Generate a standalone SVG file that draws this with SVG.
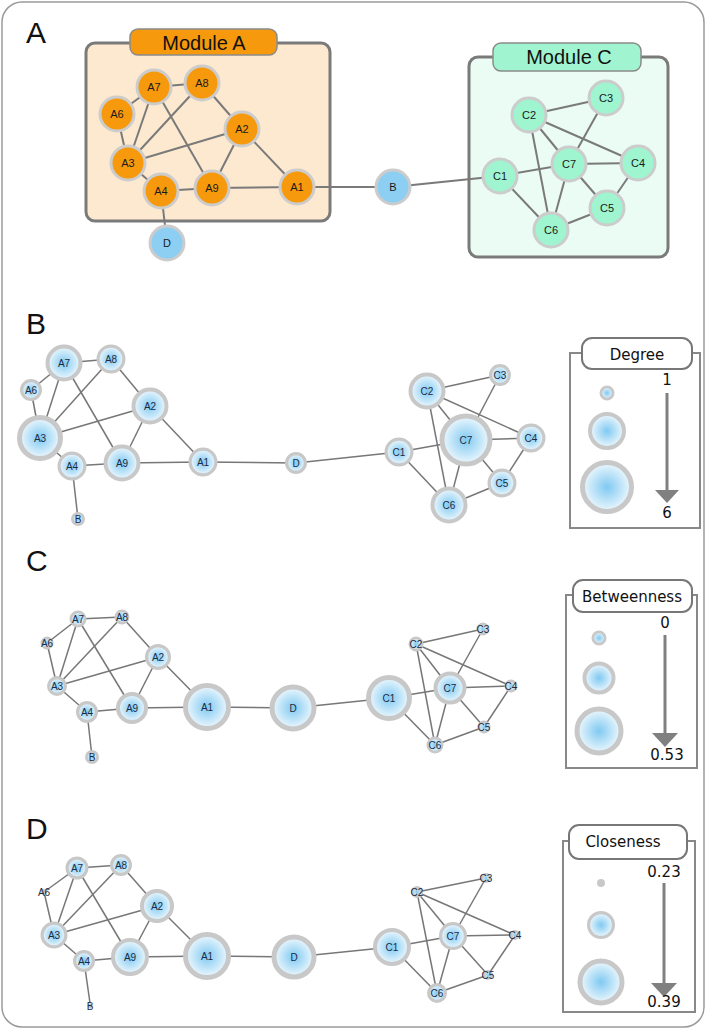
<svg xmlns="http://www.w3.org/2000/svg" width="708" height="1030" viewBox="0 0 708 1030">
<defs>
<radialGradient id="g" cx="50%" cy="50%" r="50%">
<stop offset="0" stop-color="#80c9f2"/>
<stop offset="1" stop-color="#eef8fd"/>
</radialGradient>
<style>
.frame{fill:#fff;stroke:#9a9a9a;stroke-width:1.5}
.plab{font-family:"Liberation Sans",Arial,sans-serif;font-size:30px;fill:#111}
.modbox{stroke:#7a7a7a;stroke-width:3}
.tab{stroke:#8a8a8a;stroke-width:1.5}
.modt{font-family:"Liberation Sans",Arial,sans-serif;font-size:20px;fill:#111;text-anchor:middle}
.ea{stroke:#7a7a7a;stroke-width:2;fill:none}
.e{stroke:#777;stroke-width:1.5;fill:none}
.no{fill:#f7990d;stroke:#cccccc;stroke-width:3}
.ng{fill:#9ff5cf;stroke:#cccccc;stroke-width:3}
.nb{fill:#8dcff2;stroke:#cccccc;stroke-width:3}
.n{fill:url(#g);stroke:#c8c8c8}
.ns{fill:#c8c8c8}
.ta{font-family:"Liberation Sans",Arial,sans-serif;font-size:11px;fill:#1a1a1a;text-anchor:middle}
.t{font-family:"Liberation Sans",Arial,sans-serif;font-size:10px;fill:#1a2a44;text-anchor:middle}
.lbox{fill:none;stroke:#888;stroke-width:2}
.ltab{fill:#fff;stroke:#777;stroke-width:2}
.lt{font-family:"DejaVu Sans",Verdana,sans-serif;font-size:15px;fill:#111;text-anchor:middle}
.arr{stroke:#808080;stroke-width:3}
.ah{fill:#808080}
</style>
</defs>
<rect class="frame" x="2" y="2" width="702" height="1025" rx="20"/>

<!-- Panel labels -->
<text class="plab" x="26" y="43">A</text>
<text class="plab" x="26" y="334">B</text>
<text class="plab" x="26" y="571">C</text>
<text class="plab" x="26" y="839">D</text>

<!-- Panel A modules -->
<g id="moduleA">
<rect class="modbox" x="86" y="43" width="244" height="178" rx="9" fill="#fde9cf"/>
<rect class="tab" x="130" y="29" width="147" height="26" rx="8" fill="#f7990d"/>
<text class="modt" x="204" y="50">Module A</text>
</g>
<g id="moduleC">
<rect class="modbox" x="469" y="57" width="199" height="200" rx="9" fill="#eafcf3"/>
<rect class="tab" x="493" y="43" width="148" height="28" rx="8" fill="#a0f5d0"/>
<text class="modt" x="569" y="64">Module C</text>
</g>

<!-- Connectors -->
<g id="connectors">
<!-- Panel A -->
<g class="ea">
<line x1="154" y1="87" x2="202" y2="83"/>
<line x1="154" y1="87" x2="117" y2="114"/>
<line x1="154" y1="87" x2="128" y2="163"/>
<line x1="154" y1="87" x2="212" y2="188"/>
<line x1="202" y1="83" x2="128" y2="163"/>
<line x1="202" y1="83" x2="242" y2="129"/>
<line x1="117" y1="114" x2="128" y2="163"/>
<line x1="242" y1="129" x2="128" y2="163"/>
<line x1="242" y1="129" x2="212" y2="188"/>
<line x1="242" y1="129" x2="297" y2="187"/>
<line x1="128" y1="163" x2="161" y2="191"/>
<line x1="161" y1="191" x2="212" y2="188"/>
<line x1="212" y1="188" x2="297" y2="187"/>
<line x1="161" y1="191" x2="167" y2="243"/>
<line x1="297" y1="187" x2="393" y2="187"/>
<line x1="393" y1="187" x2="500" y2="176"/>
<line x1="529" y1="115" x2="606" y2="98"/>
<line x1="529" y1="115" x2="569" y2="164"/>
<line x1="529" y1="115" x2="638" y2="163"/>
<line x1="529" y1="115" x2="551" y2="230"/>
<line x1="606" y1="98" x2="569" y2="164"/>
<line x1="569" y1="164" x2="500" y2="176"/>
<line x1="569" y1="164" x2="638" y2="163"/>
<line x1="569" y1="164" x2="607" y2="208"/>
<line x1="569" y1="164" x2="551" y2="230"/>
<line x1="638" y1="163" x2="607" y2="208"/>
<line x1="500" y1="176" x2="551" y2="230"/>
<line x1="551" y1="230" x2="607" y2="208"/>
</g>
<!-- Panel B -->
<g class="e">
<line x1="64" y1="363" x2="111" y2="359"/>
<line x1="64" y1="363" x2="31" y2="390"/>
<line x1="64" y1="363" x2="40" y2="438"/>
<line x1="64" y1="363" x2="122" y2="463"/>
<line x1="111" y1="359" x2="40" y2="438"/>
<line x1="111" y1="359" x2="150" y2="406"/>
<line x1="31" y1="390" x2="40" y2="438"/>
<line x1="150" y1="406" x2="40" y2="438"/>
<line x1="150" y1="406" x2="122" y2="463"/>
<line x1="150" y1="406" x2="203" y2="462"/>
<line x1="40" y1="438" x2="72" y2="466"/>
<line x1="72" y1="466" x2="122" y2="463"/>
<line x1="122" y1="463" x2="203" y2="462"/>
<line x1="72" y1="466" x2="78" y2="519"/>
<line x1="203" y1="462" x2="296" y2="463"/>
<line x1="296" y1="463" x2="399" y2="452"/>
<line x1="427" y1="391" x2="500" y2="375"/>
<line x1="427" y1="391" x2="466" y2="440"/>
<line x1="427" y1="391" x2="531" y2="438"/>
<line x1="427" y1="391" x2="449" y2="505"/>
<line x1="500" y1="375" x2="466" y2="440"/>
<line x1="466" y1="440" x2="399" y2="452"/>
<line x1="466" y1="440" x2="531" y2="438"/>
<line x1="466" y1="440" x2="502" y2="483"/>
<line x1="466" y1="440" x2="449" y2="505"/>
<line x1="531" y1="438" x2="502" y2="483"/>
<line x1="399" y1="452" x2="449" y2="505"/>
<line x1="449" y1="505" x2="502" y2="483"/>
</g>
<!-- Panel C -->
<g class="e">
<line x1="78" y1="619" x2="122" y2="617"/>
<line x1="78" y1="619" x2="47" y2="643"/>
<line x1="78" y1="619" x2="57" y2="686"/>
<line x1="78" y1="619" x2="132" y2="708"/>
<line x1="122" y1="617" x2="57" y2="686"/>
<line x1="122" y1="617" x2="158" y2="657"/>
<line x1="47" y1="643" x2="57" y2="686"/>
<line x1="158" y1="657" x2="57" y2="686"/>
<line x1="158" y1="657" x2="132" y2="708"/>
<line x1="158" y1="657" x2="207" y2="707"/>
<line x1="57" y1="686" x2="87" y2="712"/>
<line x1="87" y1="712" x2="132" y2="708"/>
<line x1="132" y1="708" x2="207" y2="707"/>
<line x1="87" y1="712" x2="92" y2="757"/>
<line x1="207" y1="707" x2="293" y2="708"/>
<line x1="293" y1="708" x2="389" y2="698"/>
<line x1="416" y1="644" x2="483" y2="629"/>
<line x1="416" y1="644" x2="450" y2="688"/>
<line x1="416" y1="644" x2="511" y2="686"/>
<line x1="416" y1="644" x2="435" y2="745"/>
<line x1="483" y1="629" x2="450" y2="688"/>
<line x1="450" y1="688" x2="389" y2="698"/>
<line x1="450" y1="688" x2="511" y2="686"/>
<line x1="450" y1="688" x2="484" y2="727"/>
<line x1="450" y1="688" x2="435" y2="745"/>
<line x1="511" y1="686" x2="484" y2="727"/>
<line x1="389" y1="698" x2="435" y2="745"/>
<line x1="435" y1="745" x2="484" y2="727"/>
</g>
<!-- Panel D -->
<g class="e">
<line x1="77" y1="868" x2="121" y2="865"/>
<line x1="77" y1="868" x2="44" y2="892"/>
<line x1="77" y1="868" x2="54" y2="935"/>
<line x1="77" y1="868" x2="130" y2="957"/>
<line x1="121" y1="865" x2="54" y2="935"/>
<line x1="121" y1="865" x2="157" y2="906"/>
<line x1="44" y1="892" x2="54" y2="935"/>
<line x1="157" y1="906" x2="54" y2="935"/>
<line x1="157" y1="906" x2="130" y2="957"/>
<line x1="157" y1="906" x2="207" y2="956"/>
<line x1="54" y1="935" x2="84" y2="961"/>
<line x1="84" y1="961" x2="130" y2="957"/>
<line x1="130" y1="957" x2="207" y2="956"/>
<line x1="84" y1="961" x2="90" y2="1003"/>
<line x1="207" y1="956" x2="294" y2="957"/>
<line x1="294" y1="957" x2="392" y2="947"/>
<line x1="417" y1="892" x2="486" y2="878"/>
<line x1="417" y1="892" x2="453" y2="936"/>
<line x1="417" y1="892" x2="515" y2="935"/>
<line x1="417" y1="892" x2="437" y2="993"/>
<line x1="486" y1="878" x2="453" y2="936"/>
<line x1="453" y1="936" x2="392" y2="947"/>
<line x1="453" y1="936" x2="515" y2="935"/>
<line x1="453" y1="936" x2="488" y2="975"/>
<line x1="453" y1="936" x2="437" y2="993"/>
<line x1="515" y1="935" x2="488" y2="975"/>
<line x1="392" y1="947" x2="437" y2="993"/>
<line x1="437" y1="993" x2="488" y2="975"/>
</g>
</g>

<!-- Panel A nodes -->
<g id="a-A7"><circle class="no" cx="154" cy="87" r="17"/><text class="ta" x="154" y="91">A7</text></g>
<g id="a-A8"><circle class="no" cx="202" cy="83" r="17"/><text class="ta" x="202" y="87">A8</text></g>
<g id="a-A6"><circle class="no" cx="117" cy="114" r="17"/><text class="ta" x="117" y="118">A6</text></g>
<g id="a-A2"><circle class="no" cx="242" cy="129" r="17"/><text class="ta" x="242" y="133">A2</text></g>
<g id="a-A3"><circle class="no" cx="128" cy="163" r="17"/><text class="ta" x="128" y="167">A3</text></g>
<g id="a-A4"><circle class="no" cx="161" cy="191" r="17"/><text class="ta" x="161" y="195">A4</text></g>
<g id="a-A9"><circle class="no" cx="212" cy="188" r="17"/><text class="ta" x="212" y="192">A9</text></g>
<g id="a-A1"><circle class="no" cx="297" cy="187" r="17"/><text class="ta" x="297" y="191">A1</text></g>
<g id="a-D"><circle class="nb" cx="167" cy="243" r="17"/><text class="ta" x="167" y="247">D</text></g>
<g id="a-B"><circle class="nb" cx="393" cy="187" r="17"/><text class="ta" x="393" y="191">B</text></g>
<g id="a-C2"><circle class="ng" cx="529" cy="115" r="17"/><text class="ta" x="529" y="119">C2</text></g>
<g id="a-C3"><circle class="ng" cx="606" cy="98" r="17"/><text class="ta" x="606" y="102">C3</text></g>
<g id="a-C7"><circle class="ng" cx="569" cy="164" r="17"/><text class="ta" x="569" y="168">C7</text></g>
<g id="a-C4"><circle class="ng" cx="638" cy="163" r="17"/><text class="ta" x="638" y="167">C4</text></g>
<g id="a-C1"><circle class="ng" cx="500" cy="176" r="17"/><text class="ta" x="500" y="180">C1</text></g>
<g id="a-C5"><circle class="ng" cx="607" cy="208" r="17"/><text class="ta" x="607" y="212">C5</text></g>
<g id="a-C6"><circle class="ng" cx="551" cy="230" r="17"/><text class="ta" x="551" y="234">C6</text></g>

<!-- Panel B nodes (Degree) -->
<g id="b-A7"><circle class="n" cx="64" cy="363" r="16.5" stroke-width="4"/><text class="t" x="64" y="366.5">A7</text></g>
<g id="b-A8"><circle class="n" cx="111" cy="359" r="12.9" stroke-width="3.2"/><text class="t" x="111" y="362.5">A8</text></g>
<g id="b-A6"><circle class="n" cx="31" cy="390" r="9.4" stroke-width="3.2"/><text class="t" x="31" y="393.5">A6</text></g>
<g id="b-A2"><circle class="n" cx="150" cy="406" r="16.5" stroke-width="4"/><text class="t" x="150" y="409.5">A2</text></g>
<g id="b-A3"><circle class="n" cx="40" cy="438" r="20.5" stroke-width="5"/><text class="t" x="40" y="441.5">A3</text></g>
<g id="b-A4"><circle class="n" cx="72" cy="466" r="12.9" stroke-width="3.2"/><text class="t" x="72" y="469.5">A4</text></g>
<g id="b-A9"><circle class="n" cx="122" cy="463" r="16.5" stroke-width="4"/><text class="t" x="122" y="466.5">A9</text></g>
<g id="b-A1"><circle class="n" cx="203" cy="462" r="12.9" stroke-width="3.2"/><text class="t" x="203" y="465.5">A1</text></g>
<g id="b-D"><circle class="n" cx="296" cy="463" r="9.4" stroke-width="3.2"/><text class="t" x="296" y="466.5">D</text></g>
<g id="b-B"><circle class="n" cx="78" cy="519" r="5.6" stroke-width="2.8"/><text class="t" x="78" y="522.5">B</text></g>
<g id="b-C2"><circle class="n" cx="427" cy="391" r="16.5" stroke-width="4"/><text class="t" x="427" y="394.5">C2</text></g>
<g id="b-C3"><circle class="n" cx="500" cy="375" r="9.4" stroke-width="3.2"/><text class="t" x="500" y="378.5">C3</text></g>
<g id="b-C7"><circle class="n" cx="466" cy="440" r="24" stroke-width="5"/><text class="t" x="466" y="443.5">C7</text></g>
<g id="b-C4"><circle class="n" cx="531" cy="438" r="12.9" stroke-width="3.2"/><text class="t" x="531" y="441.5">C4</text></g>
<g id="b-C1"><circle class="n" cx="399" cy="452" r="12.9" stroke-width="3.2"/><text class="t" x="399" y="455.5">C1</text></g>
<g id="b-C5"><circle class="n" cx="502" cy="483" r="12.9" stroke-width="3.2"/><text class="t" x="502" y="486.5">C5</text></g>
<g id="b-C6"><circle class="n" cx="449" cy="505" r="16.5" stroke-width="4"/><text class="t" x="449" y="508.5">C6</text></g>

<!-- Panel C nodes (Betweenness) -->
<g id="c-A7"><circle class="n" cx="78" cy="619" r="7.1" stroke-width="2.8"/><text class="t" x="78" y="622.5">A7</text></g>
<g id="c-A8"><circle class="n" cx="122" cy="617" r="6.1" stroke-width="2.8"/><text class="t" x="122" y="620.5">A8</text></g>
<g id="c-A6"><circle class="n" cx="47" cy="643" r="5.1" stroke-width="2.8"/><text class="t" x="47" y="646.5">A6</text></g>
<g id="c-A2"><circle class="n" cx="158" cy="657" r="11.4" stroke-width="3.2"/><text class="t" x="158" y="660.5">A2</text></g>
<g id="c-A3"><circle class="n" cx="57" cy="686" r="8.4" stroke-width="3.2"/><text class="t" x="57" y="689.5">A3</text></g>
<g id="c-A4"><circle class="n" cx="87" cy="712" r="9.4" stroke-width="3.2"/><text class="t" x="87" y="715.5">A4</text></g>
<g id="c-A9"><circle class="n" cx="132" cy="708" r="14" stroke-width="4"/><text class="t" x="132" y="711.5">A9</text></g>
<g id="c-A1"><circle class="n" cx="207" cy="707" r="21.5" stroke-width="5"/><text class="t" x="207" y="710.5">A1</text></g>
<g id="c-D"><circle class="n" cx="293" cy="708" r="21" stroke-width="5"/><text class="t" x="293" y="711.5">D</text></g>
<g id="c-B"><circle class="n" cx="92" cy="757" r="5.6" stroke-width="2.8"/><text class="t" x="92" y="760.5">B</text></g>
<g id="c-C2"><circle class="n" cx="416" cy="644" r="6.1" stroke-width="2.8"/><text class="t" x="416" y="647.5">C2</text></g>
<g id="c-C3"><circle class="n" cx="483" cy="629" r="5.1" stroke-width="2.8"/><text class="t" x="483" y="632.5">C3</text></g>
<g id="c-C7"><circle class="n" cx="450" cy="688" r="14.5" stroke-width="4"/><text class="t" x="450" y="691.5">C7</text></g>
<g id="c-C4"><circle class="n" cx="511" cy="686" r="5.1" stroke-width="2.8"/><text class="t" x="511" y="689.5">C4</text></g>
<g id="c-C1"><circle class="n" cx="389" cy="698" r="20.5" stroke-width="5"/><text class="t" x="389" y="701.5">C1</text></g>
<g id="c-C5"><circle class="n" cx="484" cy="727" r="5.1" stroke-width="2.8"/><text class="t" x="484" y="730.5">C5</text></g>
<g id="c-C6"><circle class="n" cx="435" cy="745" r="7.1" stroke-width="2.8"/><text class="t" x="435" y="748.5">C6</text></g>

<!-- Panel D nodes (Closeness) -->
<g id="d-A7"><circle class="n" cx="77" cy="868" r="9.9" stroke-width="3.2"/><text class="t" x="77" y="871.5">A7</text></g>
<g id="d-A8"><circle class="n" cx="121" cy="865" r="9.4" stroke-width="3.2"/><text class="t" x="121" y="868.5">A8</text></g>
<g id="d-A6"><circle class="ns" cx="44" cy="892" r="3"/><text class="t" x="44" y="895.5">A6</text></g>
<g id="d-A2"><circle class="n" cx="157" cy="906" r="15" stroke-width="4"/><text class="t" x="157" y="909.5">A2</text></g>
<g id="d-A3"><circle class="n" cx="54" cy="935" r="11.9" stroke-width="3.2"/><text class="t" x="54" y="938.5">A3</text></g>
<g id="d-A4"><circle class="n" cx="84" cy="961" r="9.4" stroke-width="3.2"/><text class="t" x="84" y="964.5">A4</text></g>
<g id="d-A9"><circle class="n" cx="130" cy="957" r="17" stroke-width="4"/><text class="t" x="130" y="960.5">A9</text></g>
<g id="d-A1"><circle class="n" cx="207" cy="956" r="21.5" stroke-width="5"/><text class="t" x="207" y="959.5">A1</text></g>
<g id="d-D"><circle class="n" cx="294" cy="957" r="20" stroke-width="5"/><text class="t" x="294" y="960.5">D</text></g>
<g id="d-B"><circle class="ns" cx="90" cy="1006" r="2.5"/><text class="t" x="90" y="1010">B</text></g>
<g id="d-C2"><circle class="n" cx="417" cy="892" r="4.6" stroke-width="2.8"/><text class="t" x="417" y="895.5">C2</text></g>
<g id="d-C3"><circle class="n" cx="486" cy="878" r="3.75" stroke-width="2.5"/><text class="t" x="486" y="881.5">C3</text></g>
<g id="d-C7"><circle class="n" cx="453" cy="936" r="12.4" stroke-width="3.2"/><text class="t" x="453" y="939.5">C7</text></g>
<g id="d-C4"><circle class="n" cx="515" cy="935" r="3.75" stroke-width="2.5"/><text class="t" x="515" y="938.5">C4</text></g>
<g id="d-C1"><circle class="n" cx="392" cy="947" r="17" stroke-width="4"/><text class="t" x="392" y="950.5">C1</text></g>
<g id="d-C5"><circle class="n" cx="488" cy="975" r="3.75" stroke-width="2.5"/><text class="t" x="488" y="978.5">C5</text></g>
<g id="d-C6"><circle class="n" cx="437" cy="993" r="8.4" stroke-width="3.2"/><text class="t" x="437" y="996.5">C6</text></g>

<!-- Legend B: Degree -->
<g id="legend-degree">
<rect class="lbox" x="570" y="353" width="130" height="175"/>
<rect class="ltab" x="582" y="338" width="110" height="31" rx="10"/>
<text class="lt" x="637" y="360">Degree</text>
<circle class="n" cx="607" cy="393" r="6.1" stroke-width="2.8"/>
<circle class="n" cx="607" cy="431" r="17" stroke-width="4"/>
<circle class="n" cx="607" cy="487" r="24.5" stroke-width="5"/>
<text class="lt" x="667" y="385">1</text>
<line class="arr" x1="667" y1="393" x2="667" y2="491"/>
<polygon class="ah" points="655,490 679,490 667,503"/>
<text class="lt" x="667" y="518">6</text>
</g>

<!-- Legend C: Betweenness -->
<g id="legend-betweenness">
<rect class="lbox" x="566" y="595" width="131" height="173"/>
<rect class="ltab" x="573" y="580" width="119" height="32" rx="10"/>
<text class="lt" x="632" y="602">Betweenness</text>
<circle class="n" cx="599" cy="638" r="6.1" stroke-width="2.8"/>
<circle class="n" cx="599" cy="678" r="14.5" stroke-width="4"/>
<circle class="n" cx="599" cy="731" r="22" stroke-width="5"/>
<text class="lt" x="665" y="628">0</text>
<line class="arr" x1="665" y1="635" x2="665" y2="734"/>
<polygon class="ah" points="652,733 678,733 665,747"/>
<text class="lt" x="667" y="760">0.53</text>
</g>

<!-- Legend D: Closeness -->
<g id="legend-closeness">
<rect class="lbox" x="563" y="841" width="132" height="171"/>
<rect class="ltab" x="569" y="825" width="118" height="34" rx="10"/>
<text class="lt" x="623" y="847">Closeness</text>
<circle class="ns" cx="601" cy="883" r="4"/>
<circle class="n" cx="601" cy="925" r="12.4" stroke-width="3.2"/>
<circle class="n" cx="601" cy="982" r="21" stroke-width="5"/>
<text class="lt" x="664" y="877">0.23</text>
<line class="arr" x1="664" y1="883" x2="664" y2="984"/>
<polygon class="ah" points="651,983 677,983 664,997"/>
<text class="lt" x="664" y="1007">0.39</text>
</g>
</svg>
